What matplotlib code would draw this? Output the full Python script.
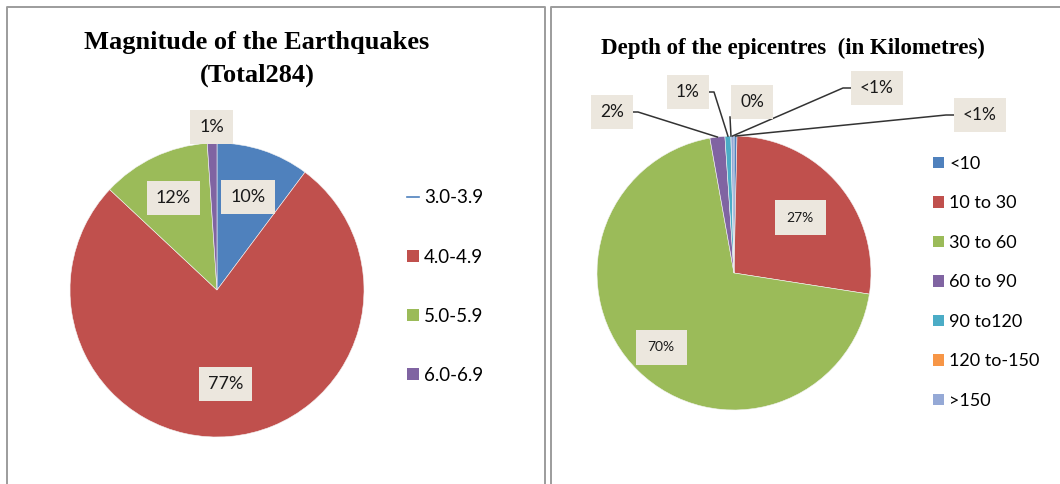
import matplotlib
matplotlib.use("Agg")
import matplotlib.pyplot as plt
from matplotlib.lines import Line2D
from matplotlib.patches import Patch
import numpy as np

# Earthquake magnitudes (count of events, total 284)
mag_labels = ['3.0-3.9', '4.0-4.9', '5.0-5.9', '6.0-6.9']
mag_counts = [29, 218, 34, 3]
mag_colors = ['#4F81BD', '#C0504D', '#9BBB59', '#8064A2']

# Depth of the epicentres in kilometres (count of events)
depth_labels = ['<10', '10 to 30', '30 to 60', '60 to 90', '90 to120', '120 to-150', '>150']
depth_counts = [1, 77, 198, 5, 2, 0, 1]
depth_colors = ['#4F81BD', '#C0504D', '#9BBB59', '#8064A2', '#4BACC6', '#F79646', '#95A9D6']

W, H = 1060, 484
LABEL_FONT = 'Lato'
TITLE_FONT = 'Liberation Serif'
BOX_COLOR = '#ECE7DE'


def Y(y):
    """Convert a top-down pixel row to the upward data axis."""
    return H - y


def pct_text(count, total):
    pct = 100.0 * count / total
    if count > 0 and round(pct) == 0:
        return '<1%'
    return f'{round(pct):.0f}%'


def wedge_point(wedge, frac):
    ang = np.deg2rad((wedge.theta1 + wedge.theta2) / 2.0)
    cx, cy = wedge.center
    return cx + frac * wedge.r * np.cos(ang), cy + frac * wedge.r * np.sin(ang)


fig = plt.figure(figsize=(W / 100, H / 100), dpi=100)
ax = fig.add_axes([0, 0, 1, 1])

# panel frames
frame_kw = dict(color='#9C9C9C', lw=1.4, solid_capstyle='butt')
ax.plot([7, 7, 545, 545], [Y(484), Y(7), Y(7), Y(484)], **frame_kw)
ax.plot([551, 551, 1060], [Y(484), Y(7), Y(7)], **frame_kw)

# ---------- magnitude pie ----------
mag_total = sum(mag_counts)
mag_wedges, _ = ax.pie(mag_counts, colors=mag_colors, startangle=90, counterclock=False,
                       center=(217, Y(290)), radius=147,
                       wedgeprops=dict(linewidth=0.4, edgecolor='#f4f4f4'))
mag_label_dist = [0.67, 0.64, 0.69, 1.11]
for w, c, d in zip(mag_wedges, mag_counts, mag_label_dist):
    x, y = wedge_point(w, d)
    ax.text(x, y, pct_text(c, mag_total), ha='center', va='center', fontsize=13,
            family=LABEL_FONT, color='#1a1a1a',
            bbox=dict(boxstyle='square,pad=0.5', fc=BOX_COLOR, ec='none'))

fig.text(257 / W, 1 - 42 / H, 'Magnitude of the Earthquakes', ha='center', va='center',
         fontsize=19, fontweight='bold', family=TITLE_FONT)
fig.text(257 / W, 1 - 75 / H, '(Total284)', ha='center', va='center',
         fontsize=19, fontweight='bold', family=TITLE_FONT)

mag_handles = [Line2D([0], [0], color=mag_colors[0], lw=1.2)] + \
              [Patch(facecolor=col, edgecolor='none') for col in mag_colors[1:]]
leg1 = fig.legend(mag_handles, mag_labels, loc='upper left',
                  bbox_to_anchor=(398 / W, 1 - 180 / H), frameon=False,
                  prop=dict(family=LABEL_FONT, size=13.5),
                  handlelength=0.6, handleheight=0.6, handletextpad=0.3,
                  labelspacing=2.25, borderpad=0)

# ---------- depth pie ----------
depth_total = sum(depth_counts)
depth_wedges, _ = ax.pie(depth_counts, colors=depth_colors, startangle=90, counterclock=False,
                         center=(734, Y(273)), radius=137,
                         wedgeprops=dict(linewidth=0.4, edgecolor='#f4f4f4'))

# labels inside the large slices
for i, d in ((1, 0.63), (2, 0.76)):
    x, y = wedge_point(depth_wedges[i], d)
    ax.text(x, y, pct_text(depth_counts[i], depth_total), ha='center', va='center',
            fontsize=10, family=LABEL_FONT, color='#1a1a1a',
            bbox=dict(boxstyle='square,pad=0.85', fc=BOX_COLOR, ec='none'))

# callout labels for the thin slices: index -> (label centre, side the leader leaves from)
callouts = {
    0: ((980, 115), 'left'),
    3: ((612, 112), 'right'),
    4: ((688, 92), 'right'),
    5: ((752, 102), 'below'),
    6: ((877, 88), 'left'),
}
for i, ((lx, ly), side) in callouts.items():
    t = ax.text(lx, Y(ly), pct_text(depth_counts[i], depth_total), ha='center', va='center',
                fontsize=12.5, family=LABEL_FONT, color='#1a1a1a',
                bbox=dict(boxstyle='square,pad=0.5', fc=BOX_COLOR, ec='none'))
    ex, ey = wedge_point(depth_wedges[i], 1.0)
    if side == 'right':
        sx, sy = lx + 16, Y(ly)
        pts = [(sx, sy), (sx + 10, sy), (ex, ey)]
    elif side == 'left':
        sx, sy = lx - 26, Y(ly)
        pts = [(sx, sy), (sx - 8, sy), (ex, ey)]
    else:
        sx, sy = lx - 22, Y(ly + 15)
        pts = [(sx, sy), (ex, ey)]
    xs, ys = zip(*pts)
    ax.plot(xs, ys, color='#333333', lw=1.1, zorder=1)

fig.text(793 / W, 1 - 48 / H, 'Depth of the epicentres  (in Kilometres)', ha='center',
         va='center', fontsize=16.5, fontweight='bold', family=TITLE_FONT)

depth_handles = [Patch(facecolor=col, edgecolor='none') for col in depth_colors]
leg2 = fig.legend(depth_handles, depth_labels, loc='upper left',
                  bbox_to_anchor=(924 / W, 1 - 147 / H), frameon=False,
                  prop=dict(family=LABEL_FONT, size=13),
                  handlelength=0.6, handleheight=0.6, handletextpad=0.3,
                  labelspacing=1.3, borderpad=0)

ax.set_xlim(0, W)
ax.set_ylim(0, H)
ax.set_aspect('equal')
ax.axis('off')

fig.savefig('out.png', dpi=100, facecolor='white')
